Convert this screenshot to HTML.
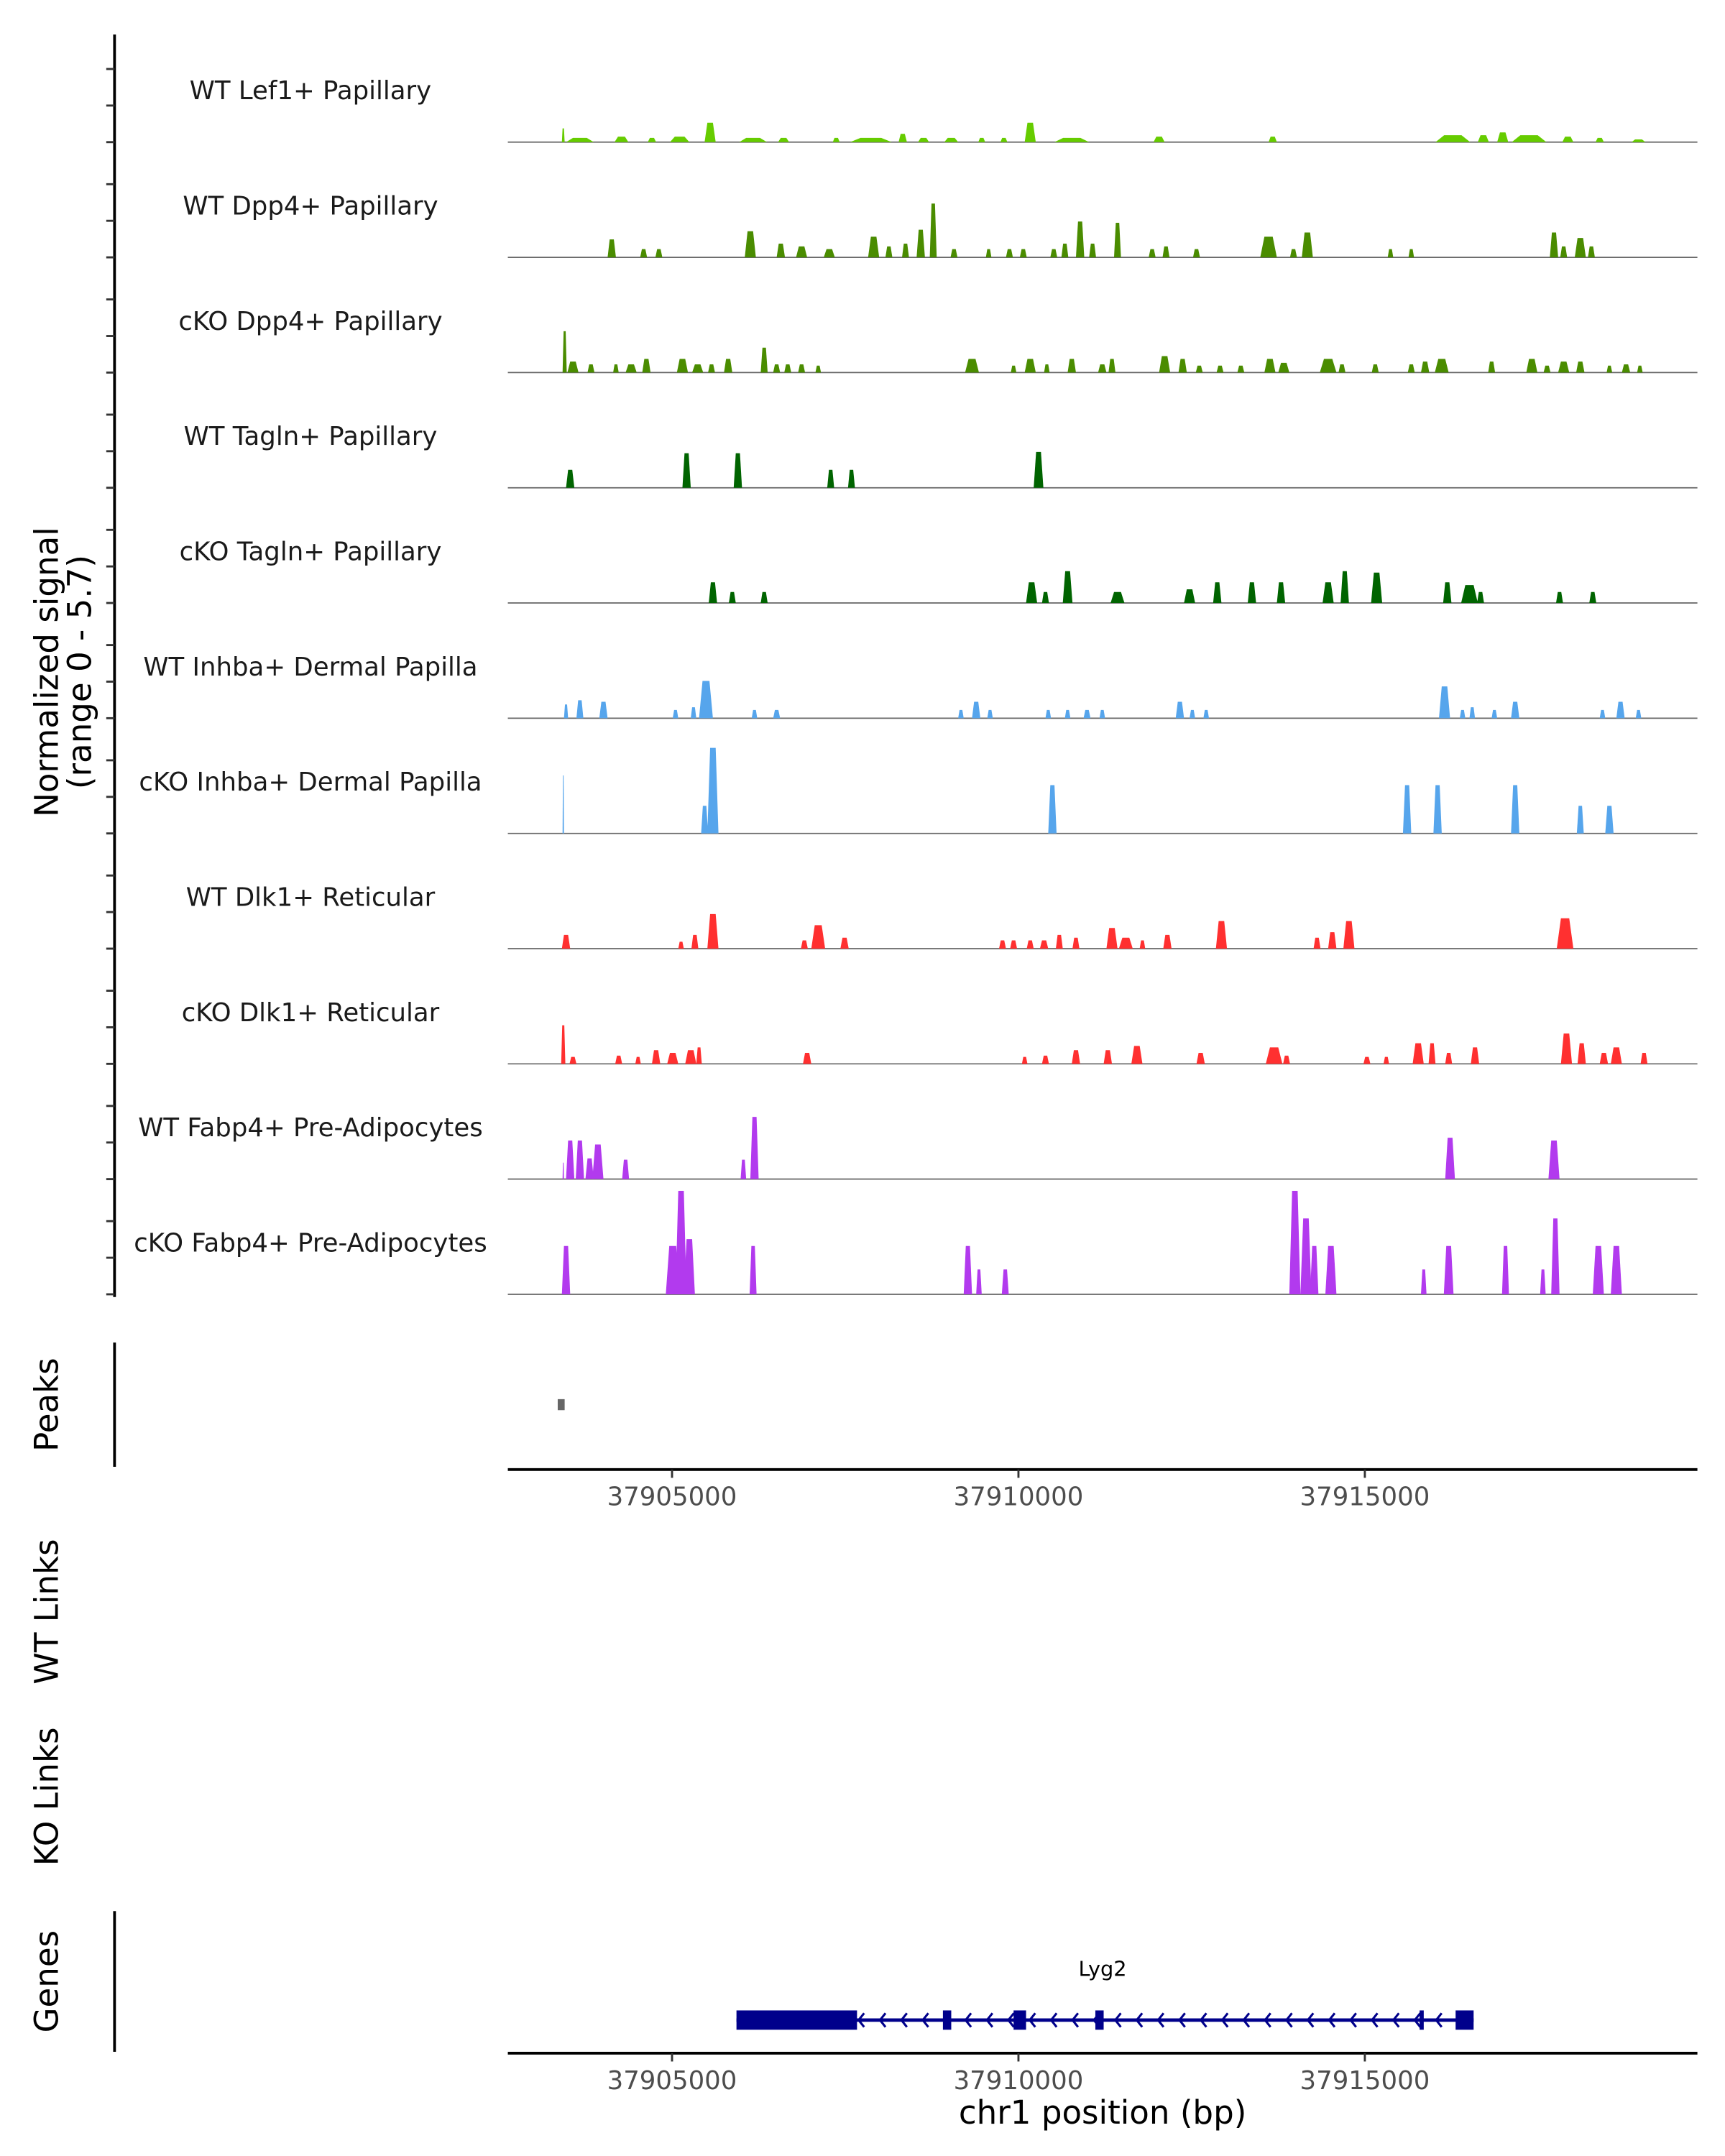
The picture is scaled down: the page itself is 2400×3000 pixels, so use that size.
<!DOCTYPE html>
<html><head><meta charset="utf-8"><style>
html,body{margin:0;padding:0;background:#fff;}
svg{display:block;font-family:"DejaVu Sans","Liberation Sans",sans-serif;}
</style></head><body>
<svg id="chart" width="2400" height="3000" viewBox="0 0 1250 1562.5" xmlns="http://www.w3.org/2000/svg">
<g id="tracks"></g>
<g id="frame"></g>
</svg>
<script>
// Track names and colors
const trackNames = ["WT Lef1+ Papillary","WT Dpp4+ Papillary","cKO Dpp4+ Papillary","WT Tagln+ Papillary","cKO Tagln+ Papillary","WT Inhba+ Dermal Papilla","cKO Inhba+ Dermal Papilla","WT Dlk1+ Reticular","cKO Dlk1+ Reticular","WT Fabp4+ Pre-Adipocytes","cKO Fabp4+ Pre-Adipocytes"];
const trackColors = ["#66cc00","#4a8c00","#4a8c00","#006400","#006400","#56a5ec","#56a5ec","#ff3030","#ff3030","#b23aee","#b23aee"];
// Peak positions in kb after 37,900,000; values (normalized signal); widths in bp
const t1Pos=[3.43,3.67,4.27,4.71,5.11,5.55,6.17,6.61,7.37,7.87,8.33,8.63,9.03,9.47,9.79,10.17,10.77,12.03,13.67,16.27,16.71,16.99,17.37,17.93,18.39,18.95];
const t1Val=[0.75,0.23,0.3,0.23,0.3,1.06,0.23,0.23,0.23,0.23,0.45,0.23,0.23,0.23,0.23,1.06,0.23,0.3,0.3,0.38,0.38,0.53,0.38,0.3,0.23,0.15];
const t1Wid=[40,400,200,120,280,160,400,160,100,600,120,160,200,100,100,160,500,160,120,500,160,160,500,160,120,200];
const t2Pos=[4.13,4.59,4.81,6.13,6.57,6.87,7.27,7.91,8.13,8.37,8.59,8.77,9.07,9.57,9.87,10.07,10.51,10.67,10.89,11.07,11.43,11.93,12.13,12.57,13.61,13.97,14.17,15.37,15.67,17.73,17.87,18.11,18.27];
const t2Val=[0.98,0.45,0.45,1.43,0.75,0.6,0.45,1.13,0.6,0.75,1.51,2.94,0.45,0.45,0.45,0.45,0.45,0.75,1.96,0.75,1.89,0.45,0.6,0.45,1.13,0.45,1.36,0.45,0.45,1.36,0.6,1.06,0.6];
const t2Wid=[120,100,100,160,120,160,160,160,100,100,120,100,100,80,100,100,100,100,120,100,100,100,100,100,240,100,160,80,80,120,100,160,100];
const t3Pos=[3.45,3.57,3.83,4.19,4.41,4.63,5.15,5.37,5.57,5.81,6.33,6.51,6.67,6.87,7.11,9.33,9.93,10.17,10.41,10.77,11.21,11.35,12.11,12.37,12.61,12.91,13.21,13.63,13.83,14.47,14.67,15.15,15.67,15.87,16.11,16.83,17.41,17.63,17.87,18.11,18.53,18.77,18.97];
const t3Val=[2.26,0.6,0.45,0.45,0.45,0.75,0.75,0.45,0.45,0.75,1.36,0.45,0.45,0.45,0.38,0.75,0.38,0.75,0.45,0.75,0.45,0.75,0.9,0.75,0.38,0.38,0.38,0.75,0.53,0.75,0.45,0.45,0.45,0.6,0.75,0.6,0.75,0.38,0.6,0.6,0.38,0.45,0.38];
const t3Wid=[60,160,100,80,160,120,160,160,100,120,100,100,100,100,80,200,80,160,80,120,120,100,160,120,100,100,100,160,160,240,100,100,100,120,200,100,160,100,160,120,80,120,80];
const t4Pos=[3.53,5.21,5.95,7.29,7.59,10.29];
const t4Val=[0.98,1.89,1.89,0.98,0.98,1.96];
const t4Wid=[120,120,120,100,100,140];
const t5Pos=[5.59,5.87,6.33,10.19,10.39,10.71,11.43,12.47,12.87,13.37,13.79,14.47,14.71,15.17,16.19,16.51,16.67,17.81,18.29];
const t5Val=[1.13,0.6,0.6,1.13,0.6,1.74,0.6,0.75,1.13,1.13,1.13,1.13,1.74,1.66,1.13,0.98,0.6,0.6,0.6];
const t5Wid=[120,100,100,160,100,140,200,160,120,120,120,160,120,160,120,240,100,100,100];
const t6Pos=[3.47,3.67,4.01,5.05,5.31,5.49,6.19,6.51,9.17,9.39,9.59,10.43,10.71,10.99,11.21,12.33,12.51,12.71,16.15,16.41,16.55,16.87,17.17,18.43,18.69,18.95];
const t6Val=[0.75,0.98,0.9,0.45,0.6,2.04,0.45,0.45,0.45,0.9,0.45,0.45,0.45,0.45,0.45,0.9,0.45,0.45,1.74,0.45,0.6,0.45,0.9,0.45,0.9,0.45];
const t6Wid=[60,100,120,80,80,200,80,100,80,120,80,80,80,100,80,120,80,80,160,80,80,80,120,80,120,80];
const t7Pos=[3.43,5.47,5.59,10.49,15.61,16.05,17.17,18.11,18.53];
const t7Val=[3.17,1.51,4.68,2.64,2.64,2.64,2.64,1.51,1.51];
const t7Wid=[20,100,160,120,120,120,120,100,120];
const t8Pos=[3.47,5.13,5.33,5.59,6.91,7.11,7.49,9.77,9.93,10.17,10.37,10.59,10.83,11.35,11.55,11.79,12.15,12.93,14.31,14.53,14.77,17.89];
const t8Val=[0.75,0.38,0.75,1.89,0.45,1.28,0.6,0.45,0.45,0.45,0.45,0.75,0.6,1.13,0.6,0.45,0.75,1.51,0.6,0.9,1.51,1.66];
const t8Wid=[120,80,100,160,100,200,120,100,100,100,120,100,100,160,200,80,120,160,100,120,160,240];
const t9Pos=[3.43,3.57,4.23,4.51,4.77,5.01,5.27,5.39,6.95,10.09,10.39,10.83,11.29,11.71,12.63,13.69,13.87,15.03,15.31,15.77,15.97,16.21,16.59,17.91,18.13,18.45,18.63,19.03];
const t9Val=[2.11,0.38,0.45,0.38,0.75,0.6,0.75,0.9,0.6,0.38,0.45,0.75,0.75,0.98,0.6,0.9,0.45,0.38,0.38,1.13,1.13,0.6,0.9,1.66,1.13,0.6,0.9,0.6];
const t9Wid=[60,100,100,80,120,160,160,80,120,80,100,120,120,160,120,240,100,100,80,160,100,100,120,160,120,120,160,100];
const t10Pos=[3.43,3.53,3.67,3.81,3.93,4.33,6.03,6.19,16.23,17.73];
const t10Val=[0.9,2.11,2.11,1.13,1.89,1.06,1.06,3.4,2.26,2.11];
const t10Wid=[20,120,120,120,160,100,80,120,140,160];
const t11Pos=[3.47,5.01,5.13,5.25,6.17,9.27,9.43,9.81,13.99,14.15,14.27,14.51,15.85,16.21,17.03,17.57,17.75,18.37,18.63];
const t11Val=[2.64,2.64,5.66,3.02,2.64,2.64,1.36,1.36,5.66,4.15,2.64,2.64,1.36,2.64,2.64,1.36,4.15,2.64,2.64];
const t11Wid=[120,200,160,160,100,120,80,100,160,160,120,160,80,140,100,80,120,160,160];
const trackPos=[t1Pos,t2Pos,t3Pos,t4Pos,t5Pos,t6Pos,t7Pos,t8Pos,t9Pos,t10Pos,t11Pos];
const trackVal=[t1Val,t2Val,t3Val,t4Val,t5Val,t6Val,t7Val,t8Val,t9Val,t10Val,t11Val];
const trackWid=[t1Wid,t2Wid,t3Wid,t4Wid,t5Wid,t6Wid,t7Wid,t8Wid,t9Wid,t10Wid,t11Wid];
// Axis ticks
const xTicks=[37905000,37910000,37915000];
const xTickLabels=["37905000","37910000","37915000"];
// Peaks track (kb after 37,900,000)
const peakStarts=[3.35];
const peakEnds=[3.45];
// Gene Lyg2 exons (kb after 37,900,000)
const geneStart=5.93, geneEnd=16.57;
const exonStarts=[5.93,8.91,9.93,11.11,15.79,16.31];
const exonEnds=[7.67,9.03,10.11,11.23,15.85,16.57];
const geneName="Lyg2";

const NS="http://www.w3.org/2000/svg";
const X0=368, X1=1230, BP0=37902630, BP1=37919800;
function xs(bp){return X0+(bp-BP0)/(BP1-BP0)*(X1-X0);}
function kb(v){return 37900000+v*1000;}
const TOP=103, STEP=83.5, YPX=13.25;
function ys(i,v){return TOP+i*STEP - v*YPX;}
function mk(tag,attrs,parent){const e=document.createElementNS(NS,tag);for(const k in attrs)e.setAttribute(k,attrs[k]);parent.appendChild(e);return e;}
const tracksG=document.getElementById('tracks');
const frame=document.getElementById('frame');

const ax=mk('line',{x1:83,x2:83,y1:25,y2:ys(trackNames.length-1,0)+2,stroke:'#000','stroke-width':2},frame);



trackNames.forEach((name,i)=>{
  const base=ys(i,0);
  const g=mk('g',{},tracksG);
  
  
  const lab=mk('text',{x:225,y:base-31,'text-anchor':'middle','font-size':18.5,fill:'#1a1a1a'},g);
  
  
  lab.textContent=name;
  const bl=mk('line',{x1:X0,x2:X1,y1:base,y2:base,stroke:'#666','stroke-width':0.9},g);
  
  
  trackPos[i].forEach((p,j)=>{
    const c=kb(p), w=trackWid[i][j], v=trackVal[i][j];
    const xa=xs(c-w/2), xb=xs(c+w/2), xc=xs(c-w/4), xd=xs(c+w/4), yt=ys(i,v);
    const pg=mk('polygon',{points:`${xa},${base} ${xc},${yt} ${xd},${yt} ${xb},${base}`,fill:trackColors[i]},g);
    
    
  });
  [0,2,4].forEach(t=>{
    const tk=mk('line',{x1:77,x2:83,y1:ys(i,t),y2:ys(i,t),stroke:'#333','stroke-width':1.5},frame);
    
    
  });
});

function vtext(txt,x,y,size,name){
  const t=mk('text',{x:x,y:y,'text-anchor':'middle','font-size':size,fill:'#000',transform:`rotate(-90 ${x} ${y})`},frame);
  
  
  t.textContent=txt;
}
vtext("Normalized signal",42,487,23.5,'y-axis-title');
vtext("(range 0 - 5.7)",66,487,23.5,'y-axis-subtitle');
vtext("Peaks",42,1018,23.5,'peaks-title');
vtext("WT Links",42,1168,23.5,'wt-links-title');
vtext("KO Links",42,1302,23.5,'ko-links-title');
vtext("Genes",42,1436,23.5,'genes-title');

let a=mk('line',{x1:83,x2:83,y1:973,y2:1063,stroke:'#000','stroke-width':2},frame);


a=mk('line',{x1:83,x2:83,y1:1385,y2:1487,stroke:'#000','stroke-width':2},frame);



peakStarts.forEach((s,i)=>{
  const r=mk('rect',{x:xs(kb(s)),y:1014,width:xs(kb(peakEnds[i]))-xs(kb(s)),height:8,fill:'#666'},frame);
  
  
});

function xaxis(y,name){
  const l=mk('line',{x1:X0,x2:X1,y1:y,y2:y,stroke:'#000','stroke-width':2},frame);
  
  
  xTicks.forEach((t,i)=>{
    const tk=mk('line',{x1:xs(t),x2:xs(t),y1:y,y2:y+6,stroke:'#333','stroke-width':1.5},frame);
    
    
    const tl=mk('text',{x:xs(t),y:y+26,'text-anchor':'middle','font-size':18.5,fill:'#4d4d4d'},frame);
    
    
    tl.textContent=xTickLabels[i];
  });
}
xaxis(1065,'peaks-x-axis');
xaxis(1488,'genes-x-axis');
const xt=mk('text',{x:799,y:1539,'text-anchor':'middle','font-size':23.5,fill:'#000'},frame);


xt.textContent="chr1 position (bp)";

// gene
const gg=mk('g',{},frame);


const gl=mk('line',{x1:xs(kb(geneStart)),x2:xs(kb(geneEnd)),y1:1464,y2:1464,stroke:'#00008b','stroke-width':2.5},gg);


for(let x=xs(kb(geneStart))+12;x<xs(kb(geneEnd))-6;x+=15.5){
  const ar=mk('polyline',{points:`${x+3},${1459} ${x-1},${1464} ${x+3},${1469}`,fill:'none',stroke:'#00008b','stroke-width':1.6},gg);
  
  
}
exonStarts.forEach((s,i)=>{
  const x1=xs(kb(s)), x2=xs(kb(exonEnds[i]));
  const r=mk('rect',{x:x1,y:1457,width:Math.max(2,x2-x1),height:14,fill:'#00008b'},gg);
  
  
});
const gn=mk('text',{x:799,y:1432,'text-anchor':'middle','font-size':15,fill:'#000'},gg);


gn.textContent=geneName;
</script>
</body></html>
